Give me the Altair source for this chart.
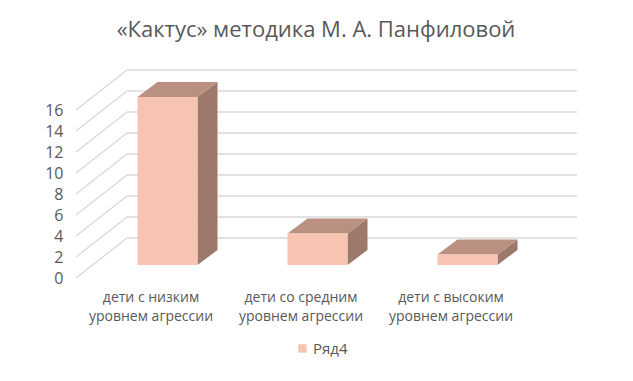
import altair as alt
import pandas as pd

# ---- data ----
categories = ["дети с низким\nуровнем агрессии",
              "дети со средним\nуровнем агрессии",
              "дети с высоким\nуровнем агрессии"]
values = [16, 3, 1]
series_name = "Ряд4"
y_ticks = [0, 2, 4, 6, 8, 10, 12, 14, 16]
title_text = "«Кактус» методика М. А. Панфиловой"

# ---- geometry / style ----
W, H = 450, 168
XMAX, YMAX = 3, 16
px_x = W / XMAX
px_y = H / YMAX
WALL_DX, WALL_DY = 51, 40      # back wall offset (px)
FACE_DX, FACE_DY = 16.5, 13    # bar front face offset (px)
DEPTH_DX, DEPTH_DY = 20, 15    # bar depth (px)
HALF = 0.2                     # half bar width (category units)
ddx = DEPTH_DX / px_x
ddy = DEPTH_DY / px_y

FONT = "Open Sans"
TXT = "#595959"
GRID = "#D9D9D9"
C_FRONT = "#F6C4B1"
C_TOP = "#BA9080"
C_SIDE = "#9D796B"

xs = alt.Scale(domain=[0, XMAX], nice=False, zero=False)
ys = alt.Scale(domain=[0, YMAX], nice=False, zero=False)

bars = pd.DataFrame({
    "i": list(range(len(values))),
    "cat": categories,
    "v": values,
    "series": [series_name] * len(values),
})
bars["x0"] = bars["i"] + 0.5 - HALF
bars["x1"] = bars["i"] + 0.5 + HALF
bars["base"] = 0.0
bars["xc"] = bars["i"] + 0.5

side_rows, top_rows = [], []
for i, v in enumerate(values):
    x0 = i + 0.5 - HALF
    x1 = i + 0.5 + HALF
    side_rows += [dict(i=i, x=x1, lo=0.0, hi=v), dict(i=i, x=x1 + ddx, lo=ddy, hi=v + ddy)]
    top_rows += [dict(i=i, x=x0, lo=v, hi=v), dict(i=i, x=x0 + ddx, lo=v, hi=v + ddy),
                 dict(i=i, x=x1, lo=v, hi=v + ddy), dict(i=i, x=x1 + ddx, lo=v + ddy, hi=v + ddy)]
side = pd.DataFrame(side_rows)
top = pd.DataFrame(top_rows)

grid = pd.DataFrame({"v": y_ticks, "xa": 0.0, "xb": float(XMAX)})

y_axis = alt.Axis(values=y_ticks, tickCount=len(y_ticks), grid=False, domain=False, ticks=False,
                  labelOverlap=False, labelBound=False, labelPadding=13, labelFontSize=16,
                  labelFont=FONT, labelColor=TXT, title=None)

# back wall grid lines
back = alt.Chart(grid).mark_rule(
    color=GRID, strokeWidth=1.3,
    xOffset=WALL_DX, x2Offset=WALL_DX, yOffset=-WALL_DY, y2Offset=-WALL_DY
).encode(
    x=alt.X("xa:Q", scale=xs, axis=None),
    x2="xb:Q",
    y=alt.Y("v:Q", scale=ys, axis=y_axis),
)

# left side diagonal lines
diag = alt.Chart(grid).mark_rule(
    color=GRID, strokeWidth=1.3, x2Offset=WALL_DX, y2Offset=-WALL_DY
).encode(
    x=alt.X("xa:Q", scale=xs, axis=None),
    x2="xa:Q",
    y=alt.Y("v:Q", scale=ys, axis=y_axis),
    y2="v:Q",
)

front = alt.Chart(bars).mark_rect(
    xOffset=FACE_DX, x2Offset=FACE_DX, yOffset=-FACE_DY, y2Offset=-FACE_DY
).encode(
    x=alt.X("x0:Q", scale=xs, axis=None),
    x2="x1:Q",
    y=alt.Y("base:Q", scale=ys, axis=y_axis),
    y2="v:Q",
    color=alt.Color("series:N", scale=alt.Scale(range=[C_FRONT]),
                    legend=alt.Legend(title=None, orient="none", legendX=219, legendY=231,
                                      symbolType="square", symbolSize=70, symbolStrokeWidth=0,
                                      labelOffset=3,
                                      labelFontSize=15, labelFont=FONT, labelColor=TXT)),
)

side_l = alt.Chart(side).mark_area(
    color=C_SIDE, orient="vertical",
    xOffset=FACE_DX, yOffset=-FACE_DY, y2Offset=-FACE_DY
).encode(
    x=alt.X("x:Q", scale=xs, axis=None),
    y=alt.Y("lo:Q", scale=ys, stack=None, axis=y_axis),
    y2="hi:Q",
    detail="i:N",
)

top_l = alt.Chart(top).mark_area(
    color=C_TOP, orient="vertical",
    xOffset=FACE_DX, yOffset=-FACE_DY, y2Offset=-FACE_DY
).encode(
    x=alt.X("x:Q", scale=xs, axis=None),
    y=alt.Y("lo:Q", scale=ys, stack=None, axis=y_axis),
    y2="hi:Q",
    detail="i:N",
)

labels = alt.Chart(bars).mark_text(
    lineBreak="\n", baseline="top", align="center", fontSize=14, font=FONT,
    color=TXT, lineHeight=19
).encode(
    x=alt.X("xc:Q", scale=xs, axis=None),
    y=alt.value(H + 13),
    text="cat:N",
)

chart = alt.layer(back, diag, side_l, top_l, front, labels).properties(
    width=W, height=H,
    title=alt.TitleParams(title_text, fontSize=22, font=FONT, color=TXT, fontWeight="normal",
                          anchor="middle", dx=15, offset=27),
    autosize=alt.AutoSizeParams(type="none"),
    padding={"left": 68, "top": 102, "right": 99, "bottom": 95},
    background="white",
).configure_view(stroke=None).configure_axisY(labelOverlap=False)

chart.save("out.html", embed_options={"renderer": "svg", "actions": False})
